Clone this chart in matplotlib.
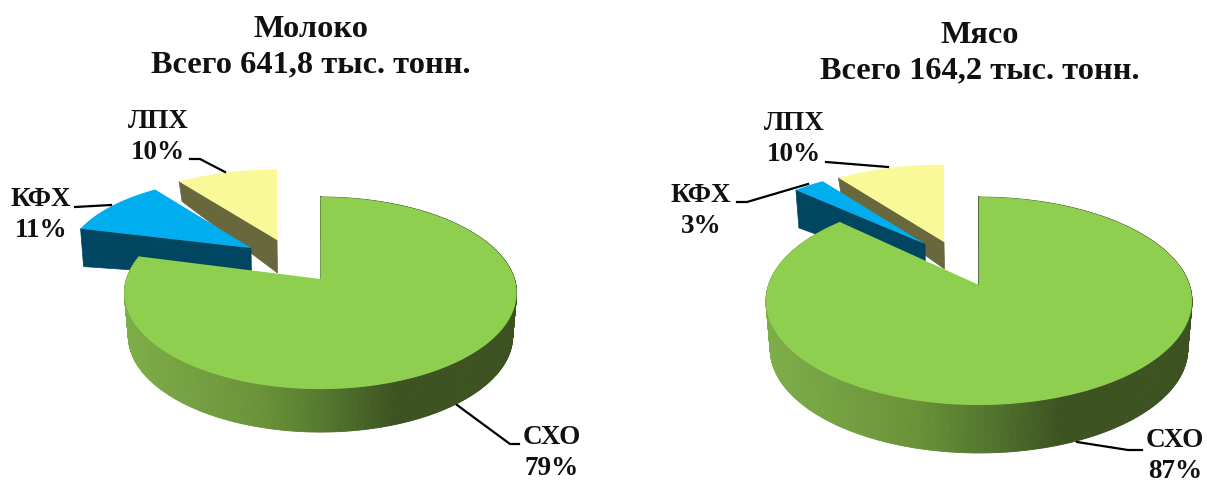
import numpy as np
from matplotlib import pyplot as plt
from matplotlib.colors import LinearSegmentedColormap

categories = ["СХО", "КФХ", "ЛПХ"]
milk_shares = [79, 11, 10]
meat_shares = [87, 3, 10]
milk_total = "641,8"
meat_total = "164,2"
chart_names = ["Молоко", "Мясо"]

top_colors = ["#8FCF50", "#00AEEF", "#FAF99A"]
wall_colors = [None, "#004661", "#68683C"]
side_cmap = LinearSegmentedColormap.from_list(
    "side", [(0, "#7DAD48"), (0.35, "#6A9238"), (0.5, "#557A30"), (0.7, "#3C5220"), (1, "#3C5220")])

plt.rcParams["font.family"] = ["Liberation Serif", "DejaVu Serif"]
plt.rcParams["font.weight"] = "bold"


def disc_point(theta, geom, sx=1.0, sy=1.0):
    # circle seen in perspective, theta goes clockwise from 12 o'clock
    X = np.sin(theta)
    Y = np.cos(theta)
    d = 1 + geom["k"] * Y
    return sx * geom["b"] * X / d, -sy * geom["a"] * Y / d


def draw_pie(ax, shares, geom):
    edges = np.radians(np.cumsum([0] + shares) * 3.6)

    # pulled out slices go first, the big one covers them
    for i in (2, 1):
        px, py = geom["tips"][i]
        sx, sy = geom["scale"][i]
        d_out, d_tip = geom["depth"][i]
        t = np.linspace(edges[i], edges[i + 1], 60)
        x, y = disc_point(t, geom, sx, sy)
        x = x + px
        y = y + py
        ax.fill([x[0], px, px + 0.5, x[0] + 3], [y[0], py, py + d_tip, y[0] + d_out],
                color=wall_colors[i], lw=0.5, zorder=2)
        ax.fill(np.r_[px, x], np.r_[py, y], color=top_colors[i], lw=0, zorder=3)

    cx, cy = geom["center"]
    depth = geom["wall"]
    t = np.linspace(edges[0], edges[1], 500)
    x, y = disc_point(t, geom)
    for j in range(len(t) - 1):
        frac = (x[j] + geom["b"]) / (2 * geom["b"])
        c = side_cmap(np.clip(frac, 0, 1))
        ax.fill([x[j] + cx, x[j + 1] + cx, x[j + 1] * 0.98 + cx, x[j] * 0.98 + cx],
                [y[j] + cy, y[j + 1] + cy, y[j + 1] + cy + depth, y[j] + cy + depth],
                color=c, lw=0.6, zorder=4)
    ax.plot([cx, x[0] + cx], [cy, y[0] + cy], color="#3E5422", lw=1.2, zorder=4)
    ax.fill(np.r_[cx, x + cx], np.r_[cy, y + cy], color=top_colors[0], lw=0, zorder=5)


def draw_labels(ax, shares, geom):
    for i, name in enumerate(categories):
        lx, ly = geom["labels"][i]
        ax.text(lx, ly, f"{name}\n{shares[i]}%", ha="center", va="center",
                fontsize=19.5, linespacing=1.29, color="#111111", zorder=7)
        lead = np.array(geom["leaders"][i])
        ax.plot(lead[:, 0], lead[:, 1], color="black", lw=1.6, zorder=6)


milk_geom = {
    "center": (320.5, 279), "a": 94, "b": 194, "k": 0.146, "wall": 43,
    "tips": {1: (251, 248), 2: (277, 240)},
    "scale": {1: (0.94, 0.86), 2: (0.96, 0.86)},
    "depth": {1: (38, 30), 2: (20, 33)},
    "labels": [(552, 453), (41, 215), (158, 137)],
    "leaders": [[(457, 405), (510, 444), (519, 444)],
                [(75, 207), (111, 205)],
                [(190, 159), (200, 159), (225, 172)]],
}
meat_geom = {
    "center": (979, 285), "a": 101.5, "b": 210.5, "k": 0.154, "wall": 48,
    "tips": {1: (925, 244), 2: (944, 242)},
    "scale": {1: (0.93, 0.86), 2: (0.96, 0.88)},
    "depth": {1: (38, 30), 2: (18, 27)},
    "labels": [(1175, 456), (701, 211), (794, 139)],
    "leaders": [[(1077, 442), (1128, 450), (1142, 450)],
                [(737, 202), (747, 202), (808, 184)],
                [(826, 162), (888, 167)]],
}

fig = plt.figure(figsize=(12.07, 4.83), dpi=100)
ax = fig.add_axes([0, 0, 1, 1])
ax.set_xlim(0, 1207)
ax.set_ylim(483, 0)
ax.axis("off")

draw_pie(ax, milk_shares, milk_geom)
draw_pie(ax, meat_shares, meat_geom)
draw_labels(ax, milk_shares, milk_geom)
draw_labels(ax, meat_shares, meat_geom)

ax.text(311, 47.5, f"{chart_names[0]}\nВсего {milk_total} тыс. тонн.", ha="center", va="center",
        fontsize=23.3, linespacing=1.29, color="#111111")
ax.text(980, 53, f"{chart_names[1]}\nВсего {meat_total} тыс. тонн.", ha="center", va="center",
        fontsize=23.3, linespacing=1.29, color="#111111")

fig.savefig("out.png", dpi=100)
